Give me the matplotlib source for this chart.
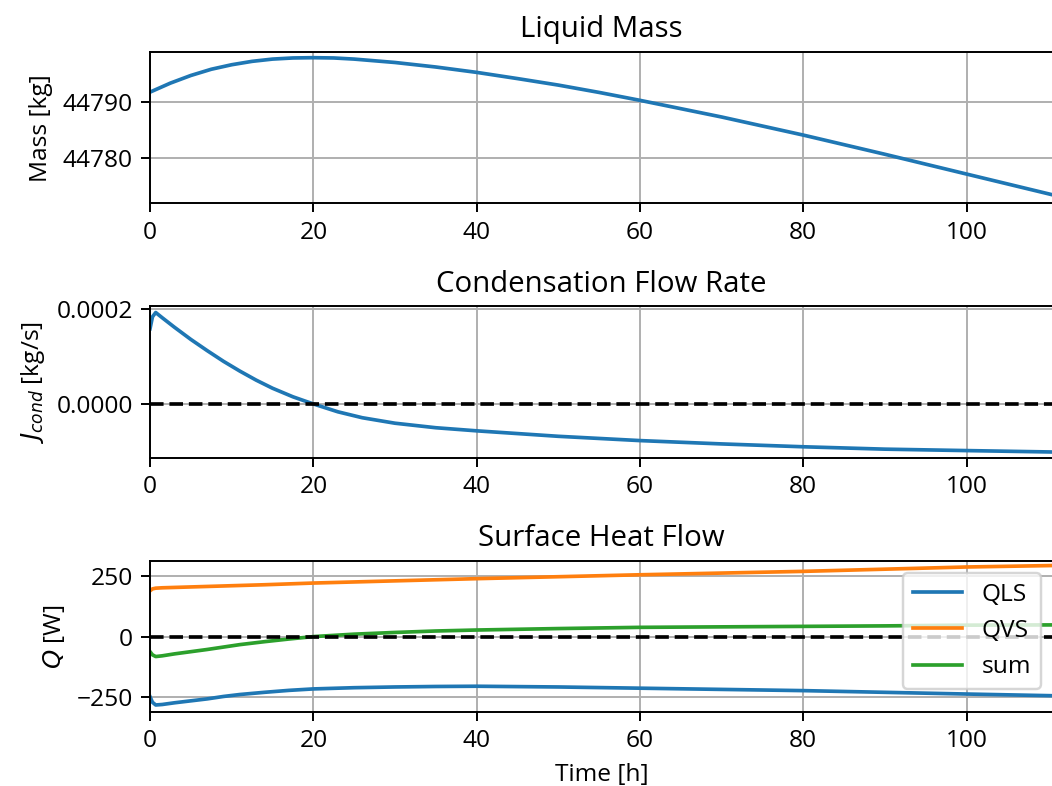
import matplotlib
matplotlib.use('Agg')
import matplotlib.pyplot as plt

plt.rcParams['font.family'] = ['Open Sans', 'DejaVu Sans']

# liquid mass [kg] over time [h]
t_mass = [0, 0.7, 2.5, 5, 7.5, 10, 12.5, 15, 17.5, 20, 22.5, 25, 30, 35, 40, 45, 50,
          55, 60, 70, 80, 90, 100, 110.6]
mass = [44791.7, 44792.15, 44793.3, 44794.65, 44795.75, 44796.55, 44797.15, 44797.55,
        44797.75, 44797.8, 44797.75, 44797.55, 44796.95, 44796.15, 44795.2, 44794.1,
        44792.95, 44791.65, 44790.25, 44787.3, 44784.1, 44780.7, 44777.2, 44773.5]

# condensation flow rate [kg/s]
t_cond = [0, 0.3, 0.7, 1.5, 3, 5, 7, 9, 11, 13, 15, 17.5, 20, 23, 26, 30, 35, 40, 50,
          60, 70, 80, 90, 100, 110.6]
j_cond = [15.8e-5, 18.3e-5, 19.2e-5, 18.1e-5, 16.1e-5, 13.55e-5, 11.2e-5, 8.95e-5,
          6.9e-5, 5.0e-5, 3.3e-5, 1.5e-5, 0.0, -1.65e-5, -2.9e-5, -4.05e-5, -5.0e-5,
          -5.65e-5, -6.8e-5, -7.7e-5, -8.4e-5, -9.0e-5, -9.5e-5, -9.8e-5, -10.1e-5]

# surface heat flow [W]
t_q = [0, 0.3, 0.7, 1.5, 3, 5, 7, 9, 11, 14, 17, 20, 25, 30, 35, 40, 50, 60, 70, 80,
       90, 100, 110.6]
qls = [-247, -270, -281, -279, -272, -264, -256, -246, -238, -229, -221, -215, -210,
       -207, -205, -204, -207, -212, -217, -222, -229, -236, -243]
qvs = [188, 196, 199, 200.5, 202, 204, 206, 208, 210, 213, 216.5, 220, 224.5, 229,
       233.5, 238, 246, 254, 261, 268, 277, 286, 292]
qsum = [-62, -75, -82, -79, -71, -62, -53, -43, -33, -21, -10, 0, 10, 17, 23, 27, 33,
        38, 40, 42, 44, 47, 48]

fig, axs = plt.subplots(3, 1, figsize=(1052 / 176, 786 / 176), dpi=176)
fig.subplots_adjust(left=0.1426, right=1.001, top=0.9338, bottom=0.0941, hspace=0.68)

ax = axs[0]
ax.plot(t_mass, mass)
ax.set_title('Liquid Mass')
ax.set_ylabel('Mass [kg]')
ax.set_yticks([44780, 44790])
ax.set_ylim(44772.0, 44798.8)
ax.ticklabel_format(axis='y', useOffset=False)

ax = axs[1]
ax.plot(t_cond, j_cond)
ax.axhline(0, color='k', linestyle='--')
ax.set_title('Condensation Flow Rate')
ax.set_ylabel('$J_{cond}$ [kg/s]')
ax.set_yticks([0.0, 0.0002])
ax.set_yticklabels(['0.0000', '0.0002'])
ax.set_ylim(-0.000113, 0.000205)

ax = axs[2]
ax.plot(t_q, qls, label='QLS')
ax.plot(t_q, qvs, label='QVS')
ax.plot(t_q, qsum, label='sum')
ax.axhline(0, color='k', linestyle='--')
ax.set_title('Surface Heat Flow')
ax.set_ylabel('$Q$ [W]')
ax.set_xlabel('Time [h]')
ax.set_yticks([-250, 0, 250])
ax.set_ylim(-310, 312)
ax.legend(loc='upper right')

for ax in axs:
	ax.set_xlim(0, 110.6)
	ax.set_xticks([0, 20, 40, 60, 80, 100])
	ax.grid(True)

fig.savefig('out.png', dpi=176)
